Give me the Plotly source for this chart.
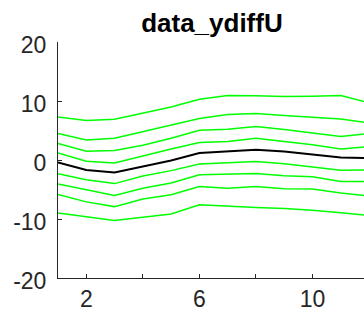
import plotly.graph_objects as go

x_vals = [1, 2, 3, 4, 5, 6, 7, 8, 9, 10, 11, 12]

green_1 = [7.3, 6.7, 6.9, 7.9, 9.0, 10.3, 10.95, 10.9, 10.75, 10.8, 10.95, 9.7]
green_2 = [4.5, 3.4, 3.7, 4.8, 5.95, 7.05, 7.7, 7.9, 7.55, 7.25, 6.95, 6.3]
green_3 = [2.8, 1.5, 1.6, 2.5, 3.7, 5.05, 5.22, 5.67, 5.15, 4.6, 4.0, 4.5]
green_4 = [1.2, -0.2, -0.5, 0.7, 1.85, 2.96, 3.13, 3.7, 3.1, 2.6, 1.85, 2.3]
green_5 = [-2.34, -3.35, -4.0, -2.7, -1.8, -0.68, -0.45, -0.27, -0.64, -1.15, -1.75, -1.7]
green_6 = [-4.05, -5.04, -6.03, -4.8, -3.9, -2.5, -2.42, -2.28, -2.67, -2.85, -3.63, -3.63]
green_7 = [-5.85, -7.1, -7.9, -6.6, -5.9, -4.48, -4.8, -4.48, -4.87, -4.93, -5.6, -6.1]
green_8 = [-9.0, -9.6, -10.24, -9.7, -9.15, -7.6, -7.87, -8.04, -8.23, -8.5, -8.95, -9.4]
black_line = [-0.4, -1.7, -2.1, -1.1, -0.1, 1.2, 1.45, 1.73, 1.42, 0.95, 0.42, 0.3]

green_series = [green_1, green_2, green_3, green_4, green_5, green_6, green_7, green_8]

y_tickvals = [-20, -10, 0, 10, 20]
y_ticktext = ["-20", "-10", "0", "10", "20"]
x_tickvals = [2, 4, 6, 8, 10]
x_ticktext = ["2", "", "6", "", "10"]
title_text = "data_ydiffU"

fig = go.Figure()
for g in green_series:
    fig.add_trace(go.Scatter(x=x_vals, y=g, mode="lines",
                             line=dict(color="#00ff00", width=1.5),
                             showlegend=False, hoverinfo="skip"))
fig.add_trace(go.Scatter(x=x_vals, y=black_line, mode="lines",
                         line=dict(color="#000000", width=2),
                         showlegend=False, hoverinfo="skip"))

axis_color = "#262626"
fig.update_layout(
    width=364, height=326,
    margin=dict(l=58, r=0, t=42, b=48),
    paper_bgcolor="white", plot_bgcolor="white",
    font=dict(family="Liberation Sans, Arial, sans-serif", size=23, color=axis_color),
    title=dict(text="<b>" + title_text + "</b>", x=0.503, xref="paper",
               y=1 - 23 / 326, yref="container", yanchor="middle", xanchor="center",
               font=dict(size=26, color="#000000")),
    xaxis=dict(range=[1, 11.82], tickvals=x_tickvals, ticktext=x_ticktext,
               ticks="inside", ticklen=4, tickwidth=1, tickcolor=axis_color,
               ticklabelstandoff=0,
               showline=True, linecolor=axis_color, linewidth=1,
               showgrid=False, zeroline=False, fixedrange=True),
    yaxis=dict(range=[-20, 20], tickvals=y_tickvals, ticktext=y_ticktext,
               ticks="inside", ticklen=4, tickwidth=1, tickcolor=axis_color,
               ticklabelstandoff=6, ticklabelshift=3,
               showline=True, linecolor=axis_color, linewidth=1,
               showgrid=False, zeroline=False, fixedrange=True),
)

fig.write_html("out.html")
